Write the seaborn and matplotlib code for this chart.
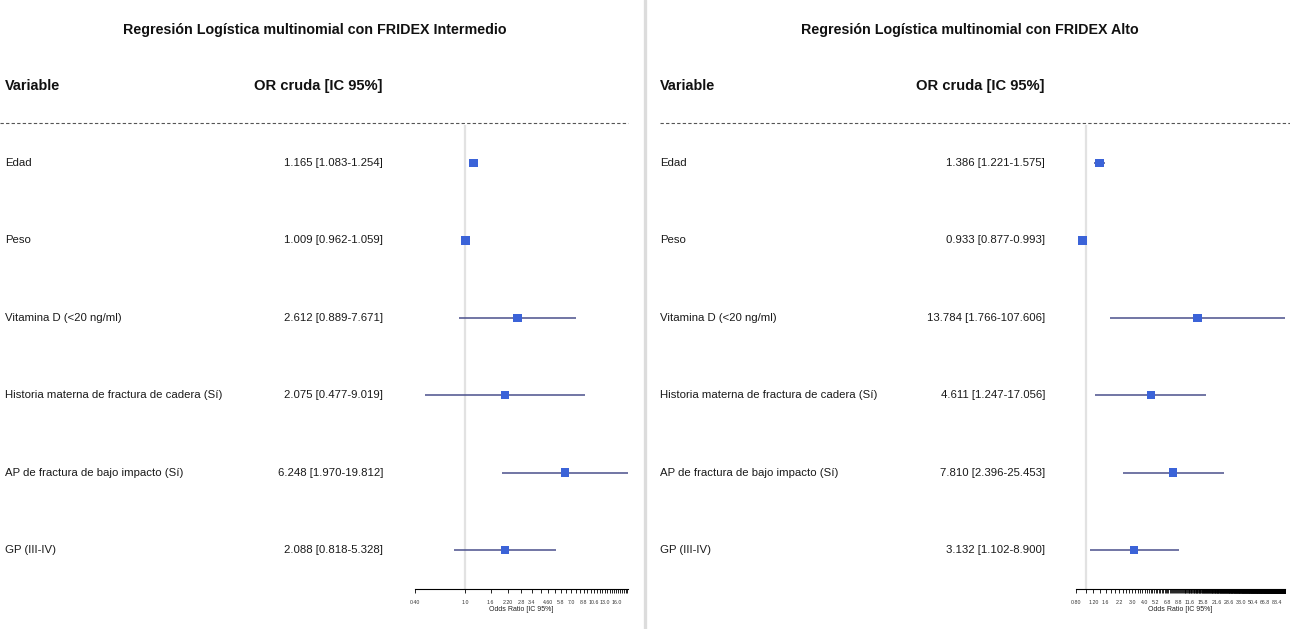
import numpy as np
import pandas as pd
import matplotlib
matplotlib.use("Agg")
import matplotlib.pyplot as plt
import matplotlib.transforms as mtransforms
from matplotlib.lines import Line2D
from matplotlib.ticker import NullLocator
import seaborn as sns

sns.set_theme(style="white")
plt.rcParams["font.family"] = ["Liberation Sans", "DejaVu Sans"]

# ---- data -------------------------------------------------------------
variables = [
    "Edad",
    "Peso",
    "Vitamina D (<20 ng/ml)",
    "Historia materna de fractura de cadera (Sí)",
    "AP de fractura de bajo impacto (Sí)",
    "GP (III-IV)",
]

# FRIDEX Intermedio
or_int = [1.165, 1.009, 2.612, 2.075, 6.248, 2.088]
lo_int = [1.083, 0.962, 0.889, 0.477, 1.970, 0.818]
hi_int = [1.254, 1.059, 7.671, 9.019, 19.812, 5.328]

# FRIDEX Alto
or_alto = [1.386, 0.933, 13.784, 4.611, 7.810, 3.132]
lo_alto = [1.221, 0.877, 1.766, 1.247, 2.396, 1.102]
hi_alto = [1.575, 0.993, 107.606, 17.056, 25.453, 8.900]

# axis tick settings (start, step) and the labels that are shown
tick_int = (0.4, 0.6)
labels_int = ["0.40", "1.0", "1.6", "2.20", "2.8", "3.4", "4.60", "5.8",
              "7.0", "8.8", "10.6", "13.0", "16.0"]
tick_alto = (0.8, 0.2)
labels_alto = ["0.80", "1.20", "1.6", "2.2", "3.0", "4.0", "5.2", "6.8",
               "8.8", "11.6", "15.8", "21.6", "28.6", "38.0", "50.4",
               "66.8", "88.4"]

titles = ["Regresión Logística multinomial con FRIDEX Intermedio",
          "Regresión Logística multinomial con FRIDEX Alto"]

# ---- layout -------------------------------------------------------------
W, H = 1290, 629
fig = plt.figure(figsize=(W / 100, H / 100), dpi=100)
fig.patch.set_facecolor("white")

SQ = "#3b63d8"
CI = "#4a4f8c"
ROW0, ROWSTEP = 163, 77.4
AX_TOP, AX_BOT = 125, 589


def fx(px):
    return px / W


def fy(py):
    return 1 - py / H


panels = [
    dict(or_=or_int, lo=lo_int, hi=hi_int, ticks=tick_int, labels=labels_int,
         title=titles[0], title_x=315, var_x=5, or_x=383,
         ax_l=415, ax_r=628, dash=(0, 628)),
    dict(or_=or_alto, lo=lo_alto, hi=hi_alto, ticks=tick_alto, labels=labels_alto,
         title=titles[1], title_x=970, var_x=660, or_x=1045,
         ax_l=1076, ax_r=1285, dash=(660, 1290)),
]

for p in panels:
    ax = fig.add_axes([fx(p["ax_l"]), fy(AX_BOT), fx(p["ax_r"] - p["ax_l"]),
                       (AX_BOT - AX_TOP) / H])
    ax.set_xscale("log")
    df = pd.DataFrame({"var": variables, "row": np.arange(len(variables)),
                       "or": p["or_"], "lo": p["lo"], "hi": p["hi"]})

    ax.axvline(1.0, color="#e2e2e2", lw=1.6, zorder=0)
    ax.hlines(df["row"], df["lo"], df["hi"], color=CI, lw=1.1, zorder=2)
    sns.scatterplot(data=df, x="or", y="row", marker="s", s=36, color=SQ,
                    edgecolor="none", ax=ax, zorder=3, legend=False)

    xmin = p["ticks"][0]
    xmax = max(p["hi"])
    ax.set_xlim(xmin, xmax)
    ylo = (AX_TOP - ROW0) / ROWSTEP
    yhi = (AX_BOT - ROW0) / ROWSTEP
    ax.set_ylim(yhi, ylo)

    ticks = np.arange(p["ticks"][0], xmax + 1e-9, p["ticks"][1])
    shown = {round(float(s), 2): s for s in p["labels"]}
    ticklabels = [shown.get(round(t, 2), "") for t in ticks]
    ax.set_xticks(ticks)
    ax.set_xticklabels(ticklabels, fontsize=3.8, color="#333333")
    ax.xaxis.set_minor_locator(NullLocator())
    ax.tick_params(axis="x", direction="out", length=3, width=0.6,
                   color="black", pad=5, bottom=True)
    ax.set_yticks([])
    ax.set_ylabel("")
    ax.set_xlabel("Odds Ratio [IC 95%]", fontsize=5, labelpad=0.3,
                  color="#222222")
    for s in ["top", "left", "right"]:
        ax.spines[s].set_visible(False)
    ax.spines["bottom"].set_color("black")
    ax.spines["bottom"].set_linewidth(0.8)
    ax.patch.set_alpha(0)

    # text columns aligned with the rows of the plot
    trans = mtransforms.blended_transform_factory(fig.transFigure, ax.transData)
    for _, r in df.iterrows():
        fig.text(fx(p["var_x"]), r["row"], r["var"], transform=trans,
                 ha="left", va="center", fontsize=8.2, color="#1a1a1a")
        fig.text(fx(p["or_x"]), r["row"],
                 f"{r['or']:.3f} [{r['lo']:.3f}-{r['hi']:.3f}]",
                 transform=trans, ha="right", va="center", fontsize=8.2,
                 color="#1a1a1a")

    fig.text(fx(p["title_x"]), fy(30), p["title"], ha="center", va="center",
             fontsize=10.3, fontweight="bold", color="#111111")
    fig.text(fx(p["var_x"]), fy(86), "Variable", ha="left", va="center",
             fontsize=10.4, fontweight="bold", color="#111111")
    fig.text(fx(p["or_x"]), fy(86), "OR cruda [IC 95%]", ha="right",
             va="center", fontsize=10.6, fontweight="bold", color="#111111")
    fig.add_artist(Line2D([fx(p["dash"][0]), fx(p["dash"][1])], [fy(123), fy(123)],
                          color="#555555", lw=0.8, linestyle=(0, (3, 2))))

# vertical divider between the two models
fig.add_artist(Line2D([fx(645), fx(645)], [0, 1], color="#dcdcdc", lw=2.4))

fig.savefig("out.png", dpi=100, facecolor="white")
